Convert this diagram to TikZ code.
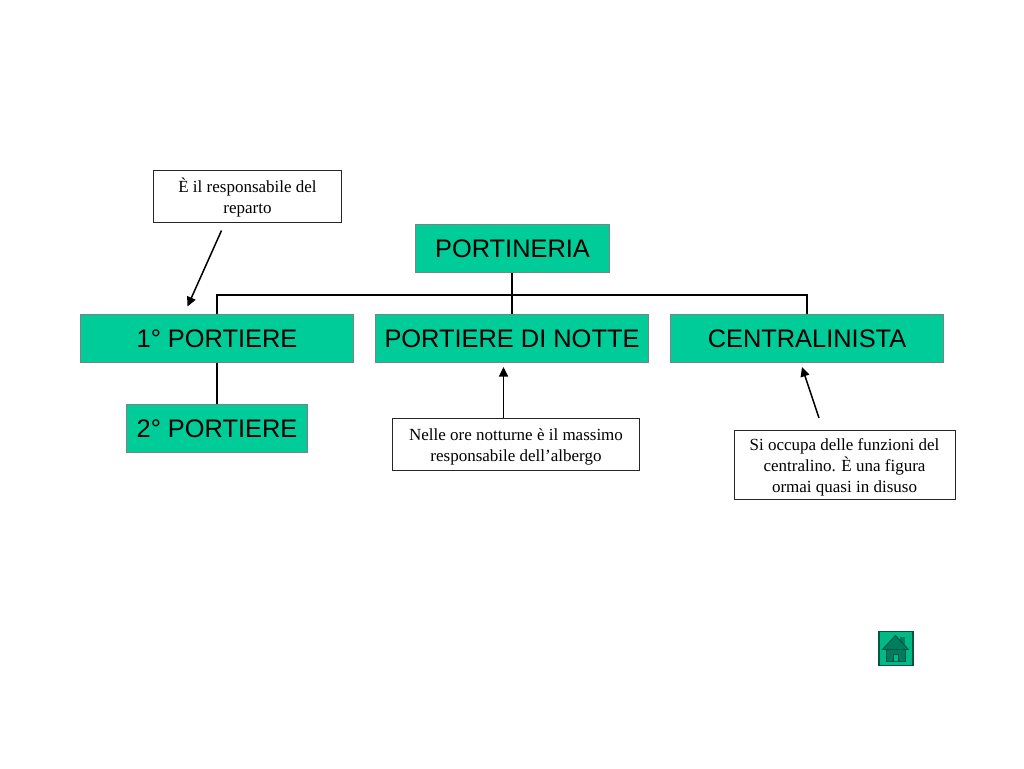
\documentclass[tikz,border=0pt]{standalone}
\usepackage{fontspec}
\setmainfont{Liberation Serif}
\newfontfamily\arialf{Liberation Sans}
\usetikzlibrary{arrows.meta}
\definecolor{boxgreen}{RGB}{0,204,153}
\definecolor{boxedge}{RGB}{128,128,128}
\definecolor{housedark}{RGB}{0,85,65}
\definecolor{homefill}{RGB}{0,185,135}
\definecolor{roofgreen}{RGB}{0,125,95}
\tikzset{
  x=1pt,y=-1pt,
  rolebox/.style={draw=boxedge,line width=1.3pt,fill=boxgreen,inner sep=0pt,align=center,
    font=\arialf\fontsize{25.4}{30}\selectfont,text=black},
  notebox/.style={draw=black!85,line width=1pt,fill=white,inner sep=0pt,align=center,
    font=\fontsize{17}{21}\selectfont,text=black},
  tree/.style={draw=black,line width=2pt},
  notearrow/.style={draw=black,line width=1.5pt,-{Triangle[length=9.5pt,width=9pt]},shorten >=0pt},
}
\newcommand{\rolenode}[6]{\node[rolebox,minimum width=#4 pt,minimum height=#5 pt] (#1) at (#2,#3) {#6};}
\newcommand{\notenode}[6]{\node[notebox,minimum width=#4 pt,minimum height=#5 pt] (#1) at (#2,#3) {\raisebox{-2.5pt}[\height][\depth]{\begin{tabular}{@{}c@{}}#6\end{tabular}}};}
\begin{document}
\begin{tikzpicture}
\useasboundingbox (0,0) rectangle (1024,768);
\fill[white] (0,0) rectangle (1024,768);
% boxes
\rolenode{port}{512.5}{248.5}{194}{48.5}{PORTINERIA}
\rolenode{primo}{217}{338.5}{273.5}{48.5}{1° PORTIERE}
\rolenode{notte}{512}{338.5}{273.5}{48.5}{PORTIERE DI NOTTE}
\rolenode{centr}{807}{338.5}{273.5}{48.5}{CENTRALINISTA}
\rolenode{secondo}{217}{428.5}{180.5}{48.5}{2° PORTIERE}
\coordinate (busm) at (512,294.5);
\coordinate (busl) at (217,294.5);
\coordinate (busr) at (807,294.5);
\draw[tree] (port.south -| busm) -- (notte.north);
\draw[tree] (primo.north) -- (busl) -- (busr) -- (centr.north);
\draw[tree] (primo.south) -- (secondo.north);
% notes
\notenode{n1}{247.5}{196.5}{188}{52}{È il responsabile del\\reparto}
\notenode{n2}{516}{444}{247}{52}{Nelle ore notturne è il massimo\\responsabile dell’albergo}
\notenode{n3}{844.5}{464.5}{221}{69}{Si occupa delle funzioni del\\centralino. È una figura\\ormai quasi in disuso}
\coordinate (a1s) at (221.5,230.5);
\coordinate (a1e) at (187.5,306.5);
\coordinate (a2e) at (503.5,367);
\coordinate (a3s) at (819,418);
\coordinate (a3e) at (802,367);
\draw[notearrow] (a1s) -- (a1e);
\draw[notearrow] (n2.north -| a2e) -- (a2e);
\draw[notearrow] (a3s) -- (a3e);
% home button
\node[draw=housedark,line width=1.2pt,fill=homefill,minimum width=34pt,minimum height=34pt,inner sep=0pt] (home) at (896,648.5) {};
\fill[roofgreen] (900,637) rectangle (904.5,646);
\filldraw[draw=housedark,fill=roofgreen,line width=.9pt] (882.5,649.5) -- (895.5,635.5) -- (908.5,649.5) -- cycle;
\draw[housedark,line width=.9pt,fill=roofgreen] (886,649.5) rectangle (905,661.5);
\draw[housedark,line width=1pt,fill=homefill] (893,654) rectangle (898,661.5);
\end{tikzpicture}
\end{document}
